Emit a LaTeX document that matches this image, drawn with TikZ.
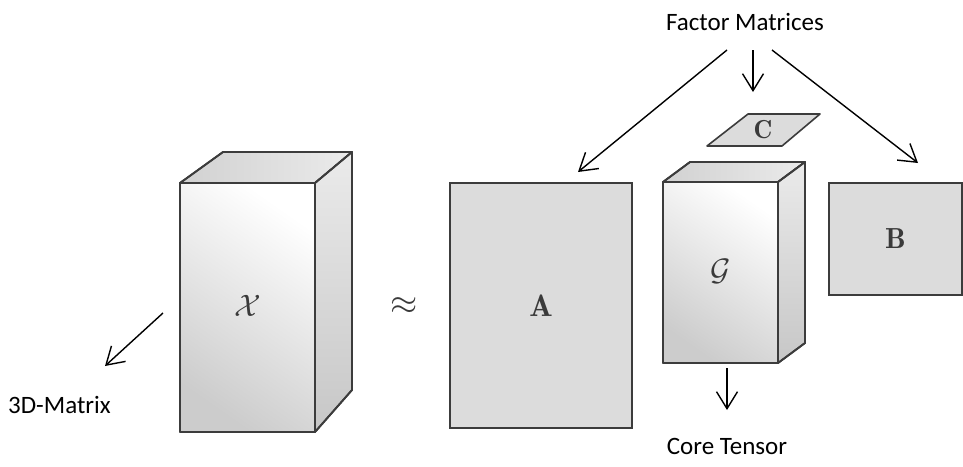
\documentclass[tikz,border=0pt]{standalone}
\usepackage{fontspec}
\newfontfamily\lblfont{Carlito}
\usetikzlibrary{arrows.meta}
\definecolor{edgec}{HTML}{3C3C3C}
\definecolor{flatc}{HTML}{DCDCDC}
\definecolor{txtc}{HTML}{3A3A3A}
\tikzset{
  facefront/.style={draw=edgec, line width=1.8pt, line join=round, top color=white, bottom color=black!20, shading angle=-35},
  facetop/.style={draw=edgec, line width=1.8pt, line join=round, left color=black!18, right color=black!8},
  faceside/.style={draw=edgec, line width=1.8pt, line join=round, top color=black!8, bottom color=black!22},
  flatmat/.style={draw=edgec, line width=1.8pt, fill=flatc, inner sep=0pt, text=txtc},
  caption/.style={font=\lblfont\fontsize{25}{30}\selectfont, inner sep=0pt, text=black},
  sym/.style={inner sep=0pt, text=txtc},
  pointer/.style={line width=1.4pt, -{Straight Barb[length=17pt,width=21pt,line width=1.4pt]}},
}
\begin{document}
\begin{tikzpicture}[x=1pt,y=-1pt]
\useasboundingbox[fill=white] (0,0) rectangle (963,466);
% X cube
\shade[facetop] (180,183) -- (223,152) -- (352,152) -- (315,183) -- cycle;
\shade[faceside] (315,183) -- (352,152) -- (352,390) -- (315,432) -- cycle;
\shade[facefront] (180,183) rectangle (315,432);
\draw[draw=edgec, line width=1.8pt, line join=round] (180,183) -- (223,152) -- (352,152) -- (352,390) -- (315,432) -- (180,432) -- cycle (180,183) -- (315,183) -- (315,432) (315,183) -- (352,152);
\node[sym] (X) at (248,306) {\scalebox{3.1}{$\mathcal{X}$}};
% approx
\node[sym] (approx) at (404,306) {\scalebox{3.5}{$\approx$}};
% A
\node[flatmat, minimum width=182pt, minimum height=245pt] (A) at (541,305.5) {\scalebox{3.1}{$\mathbf{A}$}};
% G cube
\shade[facetop] (663,182) -- (690,162) -- (805,162) -- (778,182) -- cycle;
\shade[faceside] (778,182) -- (805,162) -- (805,343) -- (778,363) -- cycle;
\shade[facefront] (663,182) rectangle (778,363);
\draw[draw=edgec, line width=1.8pt, line join=round] (663,182) -- (690,162) -- (805,162) -- (805,343) -- (778,363) -- (663,363) -- cycle (663,182) -- (778,182) -- (778,363) (778,182) -- (805,162);
\node[sym] (G) at (721,271) {\scalebox{3.1}{$\mathcal{G}$}};
% C
\filldraw[draw=edgec, line width=1.6pt, fill=flatc, line join=round] (707,146) -- (782,146) -- (820,114) -- (748,114) -- cycle;
\node[sym] (C) at (763,130) {\scalebox{2.6}{$\mathbf{C}$}};
% B
\node[flatmat, minimum width=133pt, minimum height=112pt] (B) at (895.5,239) {\scalebox{2.9}{$\mathbf{B}$}};
% captions
\node[caption] (fm) at (745,22) {Factor Matrices};
\node[caption, anchor=base west] (dm) at (8,413) {3D-Matrix};
\node[caption, anchor=base] (ct) at (727,454) {Core Tensor};
% pointer coordinates
\coordinate (fmL) at (727,50);
\coordinate (fmM) at (753,50);
\coordinate (fmR) at (772,50);
\coordinate (tipA) at (578,172);
\coordinate (tipC) at (753,92);
\coordinate (tipB) at (918,163);
\coordinate (xs) at (163,313);
\coordinate (xt) at (105,366);
\coordinate (gs) at (727,368);
\coordinate (gt) at (727,410);
\draw[pointer] (fmL) -- (tipA);
\draw[pointer] (fmM) -- (tipC);
\draw[pointer] (fmR) -- (tipB);
\draw[pointer] (xs) -- (xt);
\draw[pointer] (gs) -- (gt);
\end{tikzpicture}
\end{document}
